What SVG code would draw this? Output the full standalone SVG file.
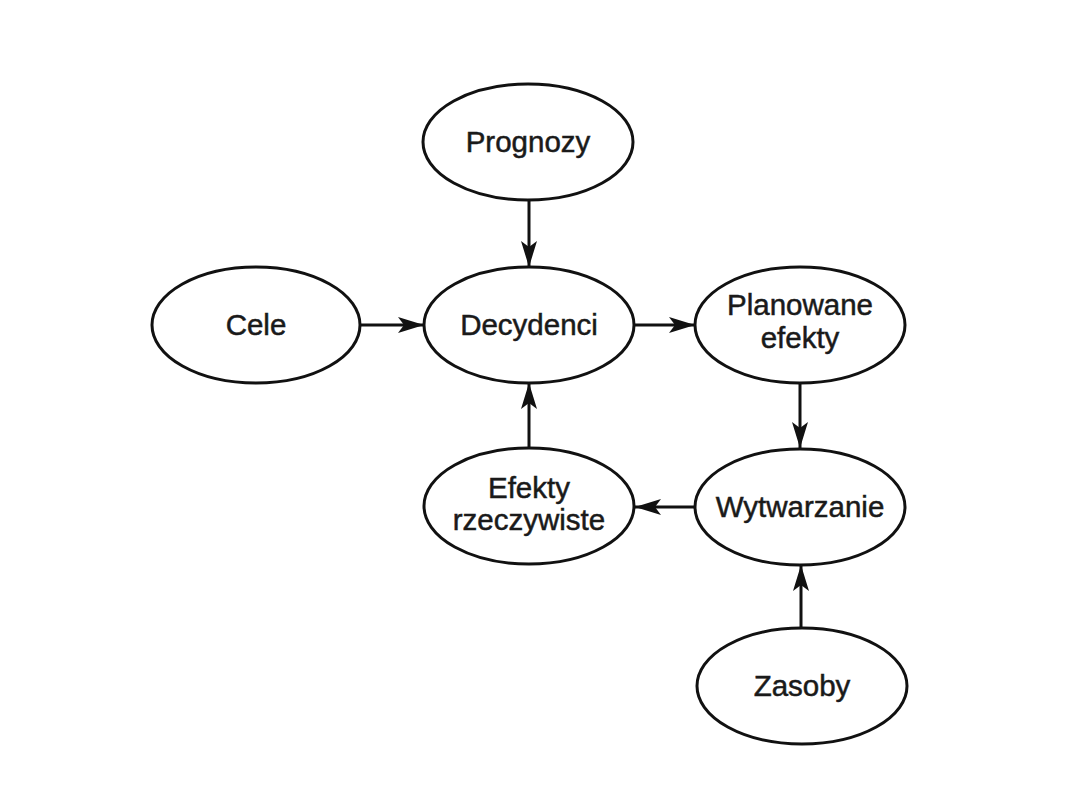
<svg xmlns="http://www.w3.org/2000/svg" width="1080" height="810" viewBox="0 0 1080 810">
<style>
.node ellipse{fill:#fff;stroke:#111;stroke-width:3}
.node text{font-family:"Liberation Sans",Arial,sans-serif;font-size:29.5px;fill:#1a1a1a;stroke:#1a1a1a;stroke-width:0.5;text-anchor:middle}
.edges line{stroke:#111;stroke-width:3;marker-end:url(#ah)}
</style>
<defs>
<marker id="ah" markerUnits="userSpaceOnUse" markerWidth="28" markerHeight="16" refX="26" refY="8" orient="auto">
<path d="M0,0 L26,8 L0,16 L6,8 Z" fill="#111"/>
</marker>
</defs>
<rect width="1080" height="810" fill="#fff"/>
<g class="edges">
<line x1="529" y1="200" x2="529" y2="267"/>
<line x1="361" y1="325" x2="424" y2="325"/>
<line x1="633" y1="325" x2="695" y2="325"/>
<line x1="800" y1="383" x2="800" y2="448"/>
<line x1="695" y1="507" x2="635" y2="507"/>
<line x1="529" y1="447" x2="529" y2="383"/>
<line x1="801" y1="628" x2="801" y2="565"/>
</g>
<g class="node" id="prognozy"><ellipse cx="528" cy="142" rx="105" ry="58"/><text x="528" y="152">Prognozy</text></g>
<g class="node" id="cele"><ellipse cx="256" cy="325" rx="104" ry="58"/><text x="256" y="335">Cele</text></g>
<g class="node" id="decydenci"><ellipse cx="529" cy="325" rx="105" ry="58"/><text x="529" y="335">Decydenci</text></g>
<g class="node" id="planowane"><ellipse cx="800" cy="325" rx="105" ry="58"/><text x="800" y="315">Planowane</text><text x="800" y="348">efekty</text></g>
<g class="node" id="efekty"><ellipse cx="529" cy="506" rx="105" ry="58"/><text x="529" y="498">Efekty</text><text x="529" y="530">rzeczywiste</text></g>
<g class="node" id="wytwarzanie"><ellipse cx="800" cy="507" rx="105" ry="58"/><text x="800" y="517">Wytwarzanie</text></g>
<g class="node" id="zasoby"><ellipse cx="802" cy="686" rx="105" ry="58"/><text x="802" y="696">Zasoby</text></g>
</svg>
